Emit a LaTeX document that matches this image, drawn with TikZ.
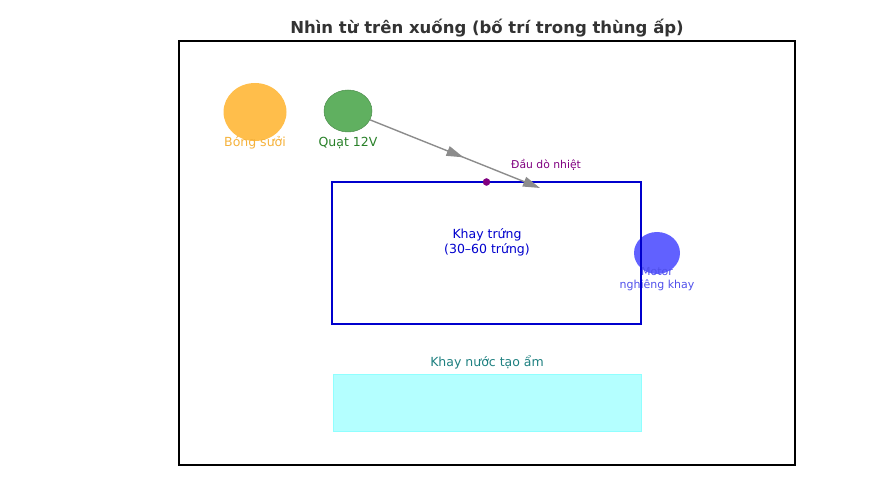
\documentclass[tikz,border=0pt]{standalone}
\usepackage{fontspec}
\setmainfont{DejaVu Sans}
\usetikzlibrary{shapes.geometric,arrows.meta,decorations.markings}

\definecolor{cBulb}{RGB}{255,190,75}
\definecolor{cBulbTxt}{RGB}{245,178,60}
\definecolor{cFan}{RGB}{96,176,96}
\definecolor{cFanTxt}{RGB}{40,128,40}
\definecolor{cMotor}{RGB}{0,0,255}
\definecolor{cMotorTxt}{RGB}{80,80,235}
\definecolor{cTray}{RGB}{0,0,205}
\definecolor{cProbe}{RGB}{128,0,128}
\definecolor{cWater}{RGB}{180,255,255}
\definecolor{cTeal}{RGB}{30,128,128}
\definecolor{cTitle}{RGB}{51,51,51}

\tikzset{
  part/.style={ellipse, inner sep=0pt},
  lbl/.style={inner sep=0pt, font=\fontsize{12.5}{15}\selectfont, align=center},
  airflow/.style={gray!90, line width=1.4pt, -{Triangle[length=17pt,width=10pt]},
    postaction={decorate}, decoration={markings,
      mark=at position 0.55 with {\arrow{Triangle[length=17pt,width=10pt]}}}}
}

\begin{document}
\begin{tikzpicture}[x=1pt,y=-1pt]
\useasboundingbox (0,0) rectangle (880,478);

% khung va tieu de
\node[draw=black, line width=1.8pt, minimum width=616pt, minimum height=424pt, inner sep=0pt] (khung) at (487,253) {};
\node[font=\fontsize{16.5}{20}\selectfont\bfseries, text=cTitle, inner sep=0pt] (tieude) at (487,28) {Nhìn từ trên xuống (bố trí trong thùng ấp)};

% bong suoi va quat
\node[part, fill=cBulb, minimum width=63pt, minimum height=58pt] (bong) at (255,112) {};
\node[lbl, text=cBulbTxt] (bongTxt) at (255,143) {Bóng sưởi};
\node[part, fill=cFan, draw=cFan!80!black, line width=0.5pt, minimum width=48pt, minimum height=42pt] (quat) at (348,111) {};
\node[lbl, text=cFanTxt] (quatTxt) at (348,143) {Quạt 12V};

% motor
\node[part, fill=cMotor, fill opacity=0.62, minimum width=46pt, minimum height=42pt] (motor) at (657,253) {};
\node[lbl, text=cMotorTxt, font=\fontsize{11}{13.5}\selectfont] (motorTxt) at (657,279) {Motor\\nghiêng khay};

% khay trung
\node[draw=cTray, line width=2.6pt, outer sep=0pt, minimum width=309pt, minimum height=142pt, inner sep=0pt] (khay) at (486.5,253) {};
\node[lbl, text=cTray] (khayTxt) at (487,242) {Khay trứng\\(30–60 trứng)};

% dau do nhiet
\filldraw[cProbe] (khay.north) circle (3.5pt) node (daudo) {};
\node[lbl, text=cProbe, font=\fontsize{10.8}{13}\selectfont] (daudoTxt) at (546,165) {Đầu dò nhiệt};

% luong gio tu quat
\coordinate (gio) at (540,188);
\draw[airflow] (quat) -- (gio);

% khay nuoc
\node[fill=cWater, draw=cWater!80!cyan, minimum width=308pt, minimum height=57pt, inner sep=0pt] (nuoc) at (487,402.5) {};
\node[lbl, text=cTeal] (nuocTxt) at (487,362) {Khay nước tạo ẩm};
\end{tikzpicture}
\end{document}
